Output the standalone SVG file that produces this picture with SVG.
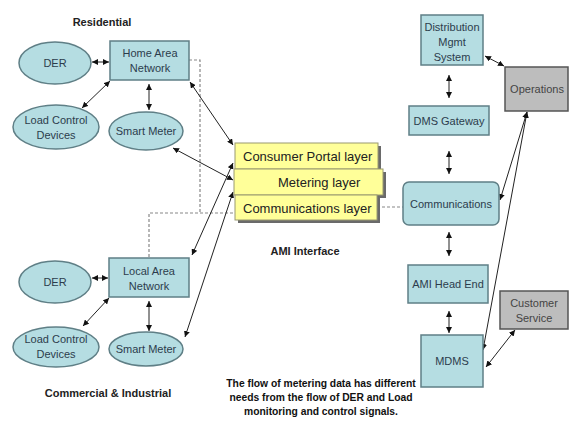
<svg xmlns="http://www.w3.org/2000/svg" width="571" height="422" viewBox="0 0 571 422">
<style>
.teal{fill:#b5dde2;stroke:#5f7f86;stroke-width:1.5}
.gray{fill:#bdbdbd;stroke:#555;stroke-width:1.5}
.yel{fill:#ffff99;stroke:#9a9a70;stroke-width:1}
.shadow{fill:#6a6a6a}
.t{font-family:"Liberation Sans",Arial,sans-serif;font-size:11px;fill:#2c3c4c;text-anchor:middle;dominant-baseline:central}
.tg{fill:#444}
.ly{font-family:"Liberation Sans",Arial,sans-serif;font-size:13px;fill:#222;dominant-baseline:central}
.lab{font-family:"Liberation Sans",Arial,sans-serif;font-weight:bold;font-size:11px;fill:#222;text-anchor:middle;dominant-baseline:central}
.note{font-family:"Liberation Sans",Arial,sans-serif;font-weight:bold;font-size:10.3px;fill:#111;text-anchor:middle;dominant-baseline:central}
.c{stroke:#222;stroke-width:1;fill:none;marker-start:url(#ah);marker-end:url(#ah)}
.d{stroke:#888;stroke-width:1.2;fill:none;stroke-dasharray:3,2}
</style>
<defs>
<marker id="ah" viewBox="0 0 6 6" refX="6" refY="3" markerWidth="6" markerHeight="6" markerUnits="userSpaceOnUse" orient="auto-start-reverse">
<path d="M0,0 L6,3 L0,6 z" fill="#111"/>
</marker>
</defs>

<g id="labels">
<text class="lab" x="102" y="22">Residential</text>
<text class="lab" x="305" y="251">AMI Interface</text>
<text class="lab" x="108" y="393">Commercial &amp; Industrial</text>
<text class="note" x="321" y="383">The flow of metering data has different</text>
<text class="note" x="321" y="397">needs from the flow of DER and Load</text>
<text class="note" x="321" y="411">monitoring and control signals.</text>
</g>

<g id="connectors">
<polyline class="d" points="189,60 200,60 200,213"/>
<polyline class="d" points="149,257 149,213 235,213"/>
<line class="d" x1="377" y1="207" x2="403" y2="207"/>
<line class="c" x1="92" y1="62" x2="109" y2="62"/>
<line class="c" x1="110" y1="81" x2="82" y2="108"/>
<line class="c" x1="149" y1="84" x2="149" y2="110"/>
<line class="c" x1="190" y1="82" x2="233" y2="145"/>
<line class="c" x1="173" y1="148" x2="233" y2="180"/>
<line class="c" x1="192" y1="255" x2="233" y2="163"/>
<line class="c" x1="185" y1="337" x2="233" y2="192"/>
<line class="c" x1="92" y1="278" x2="108" y2="278"/>
<line class="c" x1="109" y1="298" x2="83" y2="326"/>
<line class="c" x1="149" y1="301" x2="149" y2="331"/>
<line class="c" x1="449" y1="75" x2="449" y2="98"/>
<line class="c" x1="449" y1="151" x2="449" y2="174"/>
<line class="c" x1="449" y1="232" x2="449" y2="256"/>
<line class="c" x1="449" y1="311" x2="449" y2="333"/>
<line class="c" x1="485" y1="56" x2="504" y2="66"/>
<line class="c" x1="527" y1="112" x2="500" y2="200"/>
<line class="c" x1="527" y1="112" x2="483" y2="350"/>
<line class="c" x1="486" y1="367" x2="515" y2="330"/>
</g>

<g id="han"><rect class="teal" x="110" y="41" width="79" height="39"/><text class="t" x="150" y="53">Home Area</text><text class="t" x="150" y="68">Network</text></g>
<g id="der1"><ellipse class="teal" cx="55" cy="63" rx="36" ry="21"/><text class="t" x="55" y="63">DER</text></g>
<g id="lcd1"><ellipse class="teal" cx="56" cy="127" rx="43" ry="22"/><text class="t" x="56" y="120">Load Control</text><text class="t" x="56" y="135">Devices</text></g>
<g id="sm1"><ellipse class="teal" cx="146" cy="131" rx="37" ry="19"/><text class="t" x="146" y="131">Smart Meter</text></g>

<g id="lan"><rect class="teal" x="109" y="258" width="80" height="39"/><text class="t" x="149" y="271">Local Area</text><text class="t" x="149" y="286">Network</text></g>
<g id="der2"><ellipse class="teal" cx="55" cy="282" rx="36" ry="21"/><text class="t" x="55" y="282">DER</text></g>
<g id="lcd2"><ellipse class="teal" cx="56" cy="347" rx="43" ry="20"/><text class="t" x="56" y="339">Load Control</text><text class="t" x="56" y="354">Devices</text></g>
<g id="sm2"><ellipse class="teal" cx="146" cy="349" rx="37" ry="17"/><text class="t" x="146" y="349">Smart Meter</text></g>

<g id="consumer-portal"><rect class="shadow" x="238" y="146" width="143" height="26"/><rect class="yel" x="235" y="143" width="143" height="26"/><text class="ly" x="243" y="156">Consumer Portal layer</text></g>
<g id="metering"><rect class="shadow" x="237" y="172" width="149" height="26"/><rect class="yel" x="234" y="169" width="149" height="26"/><text class="ly" x="278" y="182">Metering layer</text></g>
<g id="comm-layer"><rect class="shadow" x="238" y="198" width="142" height="25"/><rect class="yel" x="235" y="195" width="142" height="25"/><text class="ly" x="243" y="208">Communications layer</text></g>

<g id="dms"><rect class="teal" x="421" y="15" width="62" height="50"/><text class="t" x="452" y="27">Distribution</text><text class="t" x="452" y="42">Mgmt</text><text class="t" x="452" y="57">System</text></g>
<g id="dms-gateway"><rect class="teal" x="409" y="106" width="80" height="29"/><text class="t" x="449" y="121">DMS Gateway</text></g>
<g id="communications"><rect class="teal" x="403" y="182" width="96" height="43" rx="6"/><text class="t" x="451" y="204">Communications</text></g>
<g id="ami-head-end"><rect class="teal" x="408" y="265" width="80" height="38"/><text class="t" x="448" y="284">AMI Head End</text></g>
<g id="mdms"><rect class="teal" x="421" y="335" width="62" height="52"/><text class="t" x="452" y="361">MDMS</text></g>
<g id="operations"><rect class="gray" x="505" y="67" width="63" height="44"/><text class="t tg" x="537" y="89">Operations</text></g>
<g id="customer-service"><rect class="gray" x="500" y="291" width="68" height="38"/><text class="t tg" x="534" y="303">Customer</text><text class="t tg" x="534" y="318">Service</text></g>
</svg>
